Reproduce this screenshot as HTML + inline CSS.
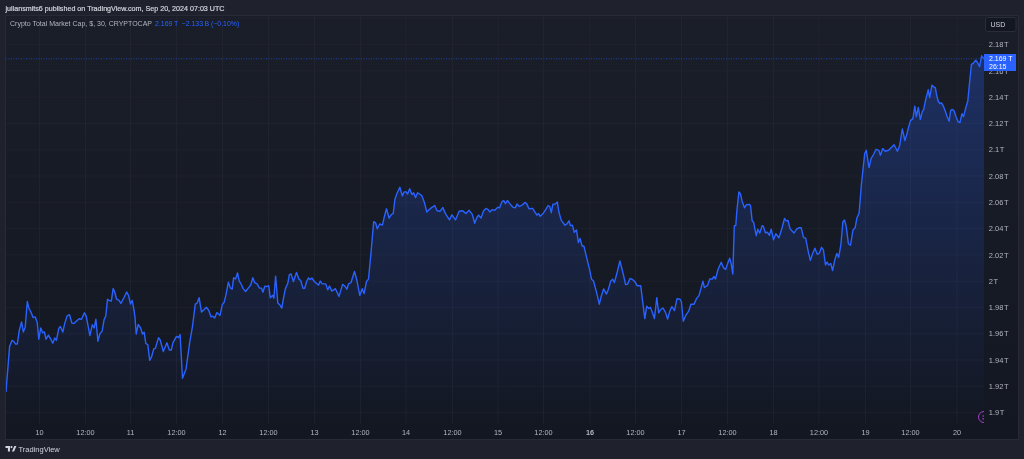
<!DOCTYPE html>
<html><head><meta charset="utf-8"><style>
html,body{margin:0;padding:0;}
body{width:1024px;height:459px;overflow:hidden;background:#1f222d;position:relative;font-family:"Liberation Sans",Arial,sans-serif;}
.hdr{position:absolute;left:5.5px;top:5.2px;font-size:7.15px;line-height:9px;color:#d1d4dc;-webkit-text-stroke:0.2px #d1d4dc;white-space:nowrap;}
svg{position:absolute;left:0;top:0;}
.foot{position:absolute;left:18.5px;top:444.5px;font-size:7.5px;line-height:10px;color:#d1d4dc;white-space:nowrap;}
</style></head><body>
<div class="hdr">juliansmits6 published on TradingView.com, Sep 20, 2024 07:03 UTC</div>
<svg width="1024" height="459" viewBox="0 0 1024 459">
<defs>
<linearGradient id="bg" x1="0" y1="15.5" x2="0" y2="439" gradientUnits="userSpaceOnUse">
<stop offset="0" stop-color="#1a1e29"/><stop offset="1" stop-color="#131722"/>
</linearGradient>
<linearGradient id="af" x1="0" y1="55" x2="0" y2="423" gradientUnits="userSpaceOnUse">
<stop offset="0" stop-color="#2962ff" stop-opacity="0.28"/><stop offset="1" stop-color="#2962ff" stop-opacity="0.0"/>
</linearGradient>
<clipPath id="pc"><rect x="6" y="16" width="978" height="407"/></clipPath>
</defs>
<rect x="5.5" y="15.5" width="1013" height="424" fill="url(#bg)" stroke="#272b36" stroke-width="1"/>
<g stroke="#2a2e39" stroke-width="1"><line x1="39.5" y1="16" x2="39.5" y2="424" stroke-opacity="0.42"/><line x1="85.5" y1="16" x2="85.5" y2="424" stroke-opacity="0.42"/><line x1="130.5" y1="16" x2="130.5" y2="424" stroke-opacity="0.42"/><line x1="176.5" y1="16" x2="176.5" y2="424" stroke-opacity="0.42"/><line x1="222.5" y1="16" x2="222.5" y2="424" stroke-opacity="0.42"/><line x1="268.5" y1="16" x2="268.5" y2="424" stroke-opacity="0.42"/><line x1="314.5" y1="16" x2="314.5" y2="424" stroke-opacity="0.42"/><line x1="360.5" y1="16" x2="360.5" y2="424" stroke-opacity="0.42"/><line x1="406.0" y1="16" x2="406.0" y2="424" stroke-opacity="0.42"/><line x1="452.5" y1="16" x2="452.5" y2="424" stroke-opacity="0.42"/><line x1="498.0" y1="16" x2="498.0" y2="424" stroke-opacity="0.42"/><line x1="543.5" y1="16" x2="543.5" y2="424" stroke-opacity="0.42"/><line x1="590.0" y1="16" x2="590.0" y2="424" stroke-opacity="0.42"/><line x1="635.5" y1="16" x2="635.5" y2="424" stroke-opacity="0.42"/><line x1="681.5" y1="16" x2="681.5" y2="424" stroke-opacity="0.42"/><line x1="727.5" y1="16" x2="727.5" y2="424" stroke-opacity="0.42"/><line x1="773.5" y1="16" x2="773.5" y2="424" stroke-opacity="0.42"/><line x1="819.0" y1="16" x2="819.0" y2="424" stroke-opacity="0.42"/><line x1="865.5" y1="16" x2="865.5" y2="424" stroke-opacity="0.42"/><line x1="910.5" y1="16" x2="910.5" y2="424" stroke-opacity="0.42"/><line x1="957.0" y1="16" x2="957.0" y2="424" stroke-opacity="0.42"/><line x1="6" y1="18.3" x2="984" y2="18.3" stroke-opacity="0.38"/><line x1="6" y1="44.6" x2="984" y2="44.6" stroke-opacity="0.38"/><line x1="6" y1="70.9" x2="984" y2="70.9" stroke-opacity="0.38"/><line x1="6" y1="97.2" x2="984" y2="97.2" stroke-opacity="0.38"/><line x1="6" y1="123.5" x2="984" y2="123.5" stroke-opacity="0.38"/><line x1="6" y1="149.7" x2="984" y2="149.7" stroke-opacity="0.38"/><line x1="6" y1="176.0" x2="984" y2="176.0" stroke-opacity="0.38"/><line x1="6" y1="202.3" x2="984" y2="202.3" stroke-opacity="0.38"/><line x1="6" y1="228.6" x2="984" y2="228.6" stroke-opacity="0.38"/><line x1="6" y1="254.9" x2="984" y2="254.9" stroke-opacity="0.38"/><line x1="6" y1="281.2" x2="984" y2="281.2" stroke-opacity="0.38"/><line x1="6" y1="307.5" x2="984" y2="307.5" stroke-opacity="0.38"/><line x1="6" y1="333.7" x2="984" y2="333.7" stroke-opacity="0.38"/><line x1="6" y1="360.0" x2="984" y2="360.0" stroke-opacity="0.38"/><line x1="6" y1="386.3" x2="984" y2="386.3" stroke-opacity="0.38"/><line x1="6" y1="412.6" x2="984" y2="412.6" stroke-opacity="0.38"/></g>
<g clip-path="url(#pc)">
<path d="M6.0 391.9 L9.6 346.4 L12.0 340.4 L13.9 341.6 L15.6 344.0 L17.3 344.0 L19.2 330.8 L21.6 321.9 L23.3 332.0 L25.2 327.2 L27.3 301.5 L28.8 308.0 L30.7 311.6 L33.1 317.6 L35.3 316.9 L37.2 322.4 L38.8 339.2 L40.8 327.9 L42.7 332.7 L44.4 332.0 L46.0 339.2 L48.4 335.1 L50.8 339.2 L52.8 343.2 L54.7 338.0 L56.4 340.4 L58.8 328.4 L60.4 326.5 L62.8 332.0 L64.7 323.6 L67.1 315.9 L69.5 314.7 L71.9 323.1 L73.8 323.6 L79.1 318.8 L81.5 319.3 L84.4 312.8 L86.3 316.4 L89.9 335.6 L92.3 324.8 L94.2 327.9 L95.9 319.3 L97.9 341.2 L99.8 334.0 L102.2 330.8 L104.1 319.6 L105.8 316.0 L107.5 299.2 L108.9 300.4 L111.3 301.1 L113.2 288.4 L114.7 292.0 L116.6 299.2 L119.0 300.4 L120.9 303.3 L123.8 298.0 L126.7 292.0 L128.6 295.6 L130.5 304.0 L132.2 300.4 L133.8 308.8 L135.0 317.2 L136.2 334.0 L138.2 324.4 L140.6 328.0 L142.5 334.0 L144.2 332.3 L145.8 343.5 L147.8 344.7 L149.7 360.3 L151.6 356.7 L153.8 348.8 L155.4 348.3 L158.5 337.6 L160.2 340.0 L163.3 351.5 L166.9 342.8 L169.3 350.0 L171.3 350.0 L172.9 342.8 L176.5 336.4 L178.5 337.6 L180.1 334.7 L182.5 378.3 L186.1 368.7 L189.7 342.4 L192.4 327.0 L195.3 304.2 L197.2 303.0 L199.1 297.7 L201.5 312.1 L203.9 309.7 L206.3 307.3 L208.7 310.2 L211.1 316.9 L212.8 316.2 L214.7 318.1 L216.9 312.6 L220.0 315.4 L222.4 304.2 L224.1 302.5 L226.0 294.6 L228.4 282.1 L230.3 287.9 L232.2 289.1 L233.6 277.8 L235.6 279.0 L237.5 273.0 L239.2 280.9 L241.6 285.0 L243.2 288.6 L245.6 291.5 L248.8 287.4 L250.7 285.0 L252.8 277.8 L254.7 282.6 L257.1 283.8 L259.5 288.1 L261.5 288.1 L262.9 292.2 L264.8 286.2 L266.3 286.7 L268.7 285.7 L270.3 297.7 L272.7 295.3 L273.9 298.2 L275.6 276.1 L277.8 303.0 L279.9 304.9 L281.8 308.2 L283.5 298.2 L285.4 288.6 L287.8 283.3 L289.3 274.8 L291.0 273.9 L293.4 281.5 L296.5 272.4 L298.9 279.1 L300.6 280.3 L303.0 288.2 L304.7 288.2 L306.6 281.5 L308.5 277.9 L310.2 279.6 L311.9 277.9 L314.3 281.5 L316.7 283.5 L318.6 285.1 L320.3 281.1 L322.2 283.9 L325.8 283.9 L327.7 289.9 L329.4 285.9 L331.8 291.1 L335.4 288.7 L339.0 296.4 L342.6 284.4 L345.0 286.3 L346.9 289.2 L348.5 283.9 L350.9 282.7 L354.5 271.5 L356.9 280.3 L359.8 295.4 L362.2 288.7 L364.1 293.5 L366.5 281.5 L368.5 279.1 L370.9 254.0 L373.7 221.6 L375.6 222.8 L377.3 228.8 L379.7 224.0 L382.4 225.2 L384.3 216.8 L386.5 208.8 L389.1 218.0 L391.5 214.4 L393.2 213.6 L394.9 199.3 L397.3 192.8 L399.9 187.3 L402.3 195.9 L404.0 192.1 L405.9 191.6 L407.6 194.0 L409.7 188.7 L411.9 194.5 L413.6 192.8 L415.5 197.6 L417.6 192.8 L419.6 194.0 L422.0 195.9 L424.4 202.4 L426.8 212.0 L429.2 209.6 L431.6 207.6 L434.7 205.5 L437.1 210.8 L440.0 211.2 L442.8 207.6 L445.9 214.4 L449.5 219.9 L451.9 214.8 L455.5 219.9 L459.1 211.2 L462.7 210.8 L465.9 213.6 L469.2 210.3 L472.3 214.4 L474.7 223.2 L476.9 217.5 L478.6 215.1 L481.0 218.0 L483.4 211.2 L485.8 208.4 L488.2 209.6 L489.9 212.0 L492.3 209.6 L494.7 210.3 L497.8 207.2 L499.5 207.9 L501.9 201.7 L503.8 200.7 L505.5 203.6 L507.4 200.5 L509.8 203.6 L512.9 207.2 L515.3 207.9 L517.0 204.1 L519.4 206.5 L522.5 204.8 L524.9 202.4 L526.6 203.6 L529.0 208.8 L532.6 208.4 L536.9 215.1 L538.5 213.6 L540.2 216.3 L543.3 213.2 L545.7 209.6 L548.1 205.5 L549.8 206.5 L551.3 212.7 L552.9 204.1 L555.3 204.1 L557.3 201.9 L558.9 212.0 L561.3 220.4 L565.0 225.2 L566.8 224.0 L569.0 220.8 L570.4 225.6 L572.4 225.1 L574.3 232.3 L576.5 229.9 L578.4 242.6 L580.1 238.5 L582.0 245.7 L583.9 246.2 L586.8 258.2 L589.7 270.2 L591.6 279.3 L593.5 281.0 L596.4 291.7 L599.3 304.2 L601.2 296.5 L603.6 288.9 L606.5 294.1 L608.4 289.3 L610.8 281.0 L612.7 279.3 L614.4 282.6 L616.8 273.8 L619.9 261.0 L622.3 270.2 L624.0 277.4 L625.6 284.5 L627.6 284.1 L630.0 278.5 L632.8 279.7 L635.2 282.1 L637.1 285.7 L640.7 285.7 L643.1 304.9 L644.8 318.6 L646.7 306.1 L648.7 308.5 L650.3 307.3 L652.7 313.3 L654.4 318.6 L656.8 297.7 L658.7 312.8 L660.6 309.7 L663.0 308.0 L665.4 312.1 L667.6 319.1 L669.7 311.2 L671.9 306.5 L674.5 310.6 L677.0 298.6 L680.1 299.2 L681.4 301.7 L683.3 321.3 L685.5 315.9 L688.7 311.2 L690.9 304.2 L694.0 304.2 L696.5 298.6 L699.1 295.4 L702.9 281.2 L704.4 287.5 L707.6 285.3 L709.8 279.0 L712.3 279.0 L713.9 276.5 L715.5 279.0 L718.0 269.5 L721.2 262.3 L723.4 267.6 L725.6 269.5 L728.1 262.3 L729.7 258.2 L731.2 263.9 L732.8 274.0 L734.3 225.8 L735.8 225.5 L736.9 210.5 L738.9 191.9 L740.4 193.7 L742.2 201.4 L744.5 207.8 L746.5 204.7 L749.5 204.4 L750.6 206.0 L752.1 220.5 L753.7 222.7 L755.2 230.4 L756.3 235.7 L757.8 229.2 L759.8 233.1 L762.1 225.8 L763.3 226.1 L765.4 232.7 L767.4 232.2 L769.4 235.3 L771.2 229.2 L773.5 239.8 L775.8 233.7 L778.9 237.7 L781.9 228.5 L784.5 218.5 L786.2 220.9 L788.0 220.5 L790.0 228.5 L791.1 229.9 L794.1 233.0 L796.6 229.0 L799.0 227.8 L801.2 227.8 L803.6 237.6 L805.7 238.2 L808.2 251.3 L810.3 260.4 L812.4 254.3 L814.9 248.2 L817.3 254.3 L819.5 252.8 L821.6 247.3 L823.4 249.8 L825.5 265.0 L827.1 262.0 L828.6 265.0 L830.7 263.5 L832.6 270.5 L834.7 260.4 L836.8 253.4 L838.7 257.4 L840.8 245.2 L842.9 221.7 L844.5 219.9 L846.3 226.9 L848.4 243.7 L850.5 245.2 L853.0 229.9 L855.1 227.8 L857.0 217.7 L859.1 213.2 L861.4 184.6 L864.7 153.5 L866.3 150.3 L869.0 167.6 L871.2 158.4 L873.5 154.5 L876.1 149.3 L878.8 150.3 L880.4 155.2 L882.7 148.6 L885.3 151.2 L888.6 150.3 L891.8 147.0 L894.1 144.7 L897.4 151.2 L899.7 145.4 L902.3 129.0 L904.9 140.5 L906.6 135.1 L908.5 127.4 L910.5 120.6 L912.9 118.6 L914.8 106.2 L916.4 116.7 L918.3 107.4 L920.3 119.6 L922.3 111.4 L923.6 109.8 L925.6 100.0 L928.2 89.8 L929.7 97.6 L931.9 85.2 L933.5 86.6 L935.4 87.8 L936.8 96.0 L938.4 101.5 L939.9 103.5 L941.5 102.9 L943.3 105.9 L945.2 110.8 L947.2 116.7 L949.2 121.2 L950.5 110.8 L952.1 109.4 L954.1 110.8 L956.0 116.7 L958.0 121.6 L960.0 122.5 L961.9 113.7 L963.5 116.7 L965.5 108.8 L967.8 101.0 L969.4 84.3 L971.4 64.6 L973.3 63.1 L975.7 60.3 L977.6 62.7 L979.6 66.6 L981.6 55.8 L983.1 57.8 L984.1 58.8 L984.1 423 L6.0 423 Z" fill="url(#af)"/>
<path d="M6.0 391.9 L9.6 346.4 L12.0 340.4 L13.9 341.6 L15.6 344.0 L17.3 344.0 L19.2 330.8 L21.6 321.9 L23.3 332.0 L25.2 327.2 L27.3 301.5 L28.8 308.0 L30.7 311.6 L33.1 317.6 L35.3 316.9 L37.2 322.4 L38.8 339.2 L40.8 327.9 L42.7 332.7 L44.4 332.0 L46.0 339.2 L48.4 335.1 L50.8 339.2 L52.8 343.2 L54.7 338.0 L56.4 340.4 L58.8 328.4 L60.4 326.5 L62.8 332.0 L64.7 323.6 L67.1 315.9 L69.5 314.7 L71.9 323.1 L73.8 323.6 L79.1 318.8 L81.5 319.3 L84.4 312.8 L86.3 316.4 L89.9 335.6 L92.3 324.8 L94.2 327.9 L95.9 319.3 L97.9 341.2 L99.8 334.0 L102.2 330.8 L104.1 319.6 L105.8 316.0 L107.5 299.2 L108.9 300.4 L111.3 301.1 L113.2 288.4 L114.7 292.0 L116.6 299.2 L119.0 300.4 L120.9 303.3 L123.8 298.0 L126.7 292.0 L128.6 295.6 L130.5 304.0 L132.2 300.4 L133.8 308.8 L135.0 317.2 L136.2 334.0 L138.2 324.4 L140.6 328.0 L142.5 334.0 L144.2 332.3 L145.8 343.5 L147.8 344.7 L149.7 360.3 L151.6 356.7 L153.8 348.8 L155.4 348.3 L158.5 337.6 L160.2 340.0 L163.3 351.5 L166.9 342.8 L169.3 350.0 L171.3 350.0 L172.9 342.8 L176.5 336.4 L178.5 337.6 L180.1 334.7 L182.5 378.3 L186.1 368.7 L189.7 342.4 L192.4 327.0 L195.3 304.2 L197.2 303.0 L199.1 297.7 L201.5 312.1 L203.9 309.7 L206.3 307.3 L208.7 310.2 L211.1 316.9 L212.8 316.2 L214.7 318.1 L216.9 312.6 L220.0 315.4 L222.4 304.2 L224.1 302.5 L226.0 294.6 L228.4 282.1 L230.3 287.9 L232.2 289.1 L233.6 277.8 L235.6 279.0 L237.5 273.0 L239.2 280.9 L241.6 285.0 L243.2 288.6 L245.6 291.5 L248.8 287.4 L250.7 285.0 L252.8 277.8 L254.7 282.6 L257.1 283.8 L259.5 288.1 L261.5 288.1 L262.9 292.2 L264.8 286.2 L266.3 286.7 L268.7 285.7 L270.3 297.7 L272.7 295.3 L273.9 298.2 L275.6 276.1 L277.8 303.0 L279.9 304.9 L281.8 308.2 L283.5 298.2 L285.4 288.6 L287.8 283.3 L289.3 274.8 L291.0 273.9 L293.4 281.5 L296.5 272.4 L298.9 279.1 L300.6 280.3 L303.0 288.2 L304.7 288.2 L306.6 281.5 L308.5 277.9 L310.2 279.6 L311.9 277.9 L314.3 281.5 L316.7 283.5 L318.6 285.1 L320.3 281.1 L322.2 283.9 L325.8 283.9 L327.7 289.9 L329.4 285.9 L331.8 291.1 L335.4 288.7 L339.0 296.4 L342.6 284.4 L345.0 286.3 L346.9 289.2 L348.5 283.9 L350.9 282.7 L354.5 271.5 L356.9 280.3 L359.8 295.4 L362.2 288.7 L364.1 293.5 L366.5 281.5 L368.5 279.1 L370.9 254.0 L373.7 221.6 L375.6 222.8 L377.3 228.8 L379.7 224.0 L382.4 225.2 L384.3 216.8 L386.5 208.8 L389.1 218.0 L391.5 214.4 L393.2 213.6 L394.9 199.3 L397.3 192.8 L399.9 187.3 L402.3 195.9 L404.0 192.1 L405.9 191.6 L407.6 194.0 L409.7 188.7 L411.9 194.5 L413.6 192.8 L415.5 197.6 L417.6 192.8 L419.6 194.0 L422.0 195.9 L424.4 202.4 L426.8 212.0 L429.2 209.6 L431.6 207.6 L434.7 205.5 L437.1 210.8 L440.0 211.2 L442.8 207.6 L445.9 214.4 L449.5 219.9 L451.9 214.8 L455.5 219.9 L459.1 211.2 L462.7 210.8 L465.9 213.6 L469.2 210.3 L472.3 214.4 L474.7 223.2 L476.9 217.5 L478.6 215.1 L481.0 218.0 L483.4 211.2 L485.8 208.4 L488.2 209.6 L489.9 212.0 L492.3 209.6 L494.7 210.3 L497.8 207.2 L499.5 207.9 L501.9 201.7 L503.8 200.7 L505.5 203.6 L507.4 200.5 L509.8 203.6 L512.9 207.2 L515.3 207.9 L517.0 204.1 L519.4 206.5 L522.5 204.8 L524.9 202.4 L526.6 203.6 L529.0 208.8 L532.6 208.4 L536.9 215.1 L538.5 213.6 L540.2 216.3 L543.3 213.2 L545.7 209.6 L548.1 205.5 L549.8 206.5 L551.3 212.7 L552.9 204.1 L555.3 204.1 L557.3 201.9 L558.9 212.0 L561.3 220.4 L565.0 225.2 L566.8 224.0 L569.0 220.8 L570.4 225.6 L572.4 225.1 L574.3 232.3 L576.5 229.9 L578.4 242.6 L580.1 238.5 L582.0 245.7 L583.9 246.2 L586.8 258.2 L589.7 270.2 L591.6 279.3 L593.5 281.0 L596.4 291.7 L599.3 304.2 L601.2 296.5 L603.6 288.9 L606.5 294.1 L608.4 289.3 L610.8 281.0 L612.7 279.3 L614.4 282.6 L616.8 273.8 L619.9 261.0 L622.3 270.2 L624.0 277.4 L625.6 284.5 L627.6 284.1 L630.0 278.5 L632.8 279.7 L635.2 282.1 L637.1 285.7 L640.7 285.7 L643.1 304.9 L644.8 318.6 L646.7 306.1 L648.7 308.5 L650.3 307.3 L652.7 313.3 L654.4 318.6 L656.8 297.7 L658.7 312.8 L660.6 309.7 L663.0 308.0 L665.4 312.1 L667.6 319.1 L669.7 311.2 L671.9 306.5 L674.5 310.6 L677.0 298.6 L680.1 299.2 L681.4 301.7 L683.3 321.3 L685.5 315.9 L688.7 311.2 L690.9 304.2 L694.0 304.2 L696.5 298.6 L699.1 295.4 L702.9 281.2 L704.4 287.5 L707.6 285.3 L709.8 279.0 L712.3 279.0 L713.9 276.5 L715.5 279.0 L718.0 269.5 L721.2 262.3 L723.4 267.6 L725.6 269.5 L728.1 262.3 L729.7 258.2 L731.2 263.9 L732.8 274.0 L734.3 225.8 L735.8 225.5 L736.9 210.5 L738.9 191.9 L740.4 193.7 L742.2 201.4 L744.5 207.8 L746.5 204.7 L749.5 204.4 L750.6 206.0 L752.1 220.5 L753.7 222.7 L755.2 230.4 L756.3 235.7 L757.8 229.2 L759.8 233.1 L762.1 225.8 L763.3 226.1 L765.4 232.7 L767.4 232.2 L769.4 235.3 L771.2 229.2 L773.5 239.8 L775.8 233.7 L778.9 237.7 L781.9 228.5 L784.5 218.5 L786.2 220.9 L788.0 220.5 L790.0 228.5 L791.1 229.9 L794.1 233.0 L796.6 229.0 L799.0 227.8 L801.2 227.8 L803.6 237.6 L805.7 238.2 L808.2 251.3 L810.3 260.4 L812.4 254.3 L814.9 248.2 L817.3 254.3 L819.5 252.8 L821.6 247.3 L823.4 249.8 L825.5 265.0 L827.1 262.0 L828.6 265.0 L830.7 263.5 L832.6 270.5 L834.7 260.4 L836.8 253.4 L838.7 257.4 L840.8 245.2 L842.9 221.7 L844.5 219.9 L846.3 226.9 L848.4 243.7 L850.5 245.2 L853.0 229.9 L855.1 227.8 L857.0 217.7 L859.1 213.2 L861.4 184.6 L864.7 153.5 L866.3 150.3 L869.0 167.6 L871.2 158.4 L873.5 154.5 L876.1 149.3 L878.8 150.3 L880.4 155.2 L882.7 148.6 L885.3 151.2 L888.6 150.3 L891.8 147.0 L894.1 144.7 L897.4 151.2 L899.7 145.4 L902.3 129.0 L904.9 140.5 L906.6 135.1 L908.5 127.4 L910.5 120.6 L912.9 118.6 L914.8 106.2 L916.4 116.7 L918.3 107.4 L920.3 119.6 L922.3 111.4 L923.6 109.8 L925.6 100.0 L928.2 89.8 L929.7 97.6 L931.9 85.2 L933.5 86.6 L935.4 87.8 L936.8 96.0 L938.4 101.5 L939.9 103.5 L941.5 102.9 L943.3 105.9 L945.2 110.8 L947.2 116.7 L949.2 121.2 L950.5 110.8 L952.1 109.4 L954.1 110.8 L956.0 116.7 L958.0 121.6 L960.0 122.5 L961.9 113.7 L963.5 116.7 L965.5 108.8 L967.8 101.0 L969.4 84.3 L971.4 64.6 L973.3 63.1 L975.7 60.3 L977.6 62.7 L979.6 66.6 L981.6 55.8 L983.1 57.8 L984.1 58.8" fill="none" stroke="#2962ff" stroke-width="1.4" stroke-linejoin="round"/>
<line x1="6" y1="58.8" x2="984" y2="58.8" stroke="#2962ff" stroke-width="0.8" stroke-dasharray="1 1.5" opacity="0.7"/>
<g fill="none" stroke="#a13fc4" stroke-width="1"><circle cx="984" cy="417" r="5.5"/></g>
<g fill="#a13fc4" opacity="0.85"><rect x="982.4" y="415.3" width="1.6" height="1.4"/><rect x="982.4" y="418.1" width="1.6" height="1.5"/></g>
</g>
<g font-family="Liberation Sans, Arial, sans-serif" font-size="7" fill="#b2b5be">
<text x="10" y="26.2">Crypto Total Market Cap, $, 30, CRYPTOCAP</text>
<text x="155" y="26.2" fill="#2962ff">2.169&#8201;T</text>
<text x="181.6" y="26.2" fill="#2962ff" font-size="6.95">&#8722;2.133&#8201;B (&#8722;0.10%)</text>
<text x="988.8" y="47.3" font-size="7.5">2.18&#8202;T</text>
<text x="988.8" y="73.6" font-size="7.5">2.16&#8202;T</text>
<text x="988.8" y="99.9" font-size="7.5">2.14&#8202;T</text>
<text x="988.8" y="126.2" font-size="7.5">2.12&#8202;T</text>
<text x="988.8" y="152.4" font-size="7.5">2.1&#8202;T</text>
<text x="988.8" y="178.7" font-size="7.5">2.08&#8202;T</text>
<text x="988.8" y="205.0" font-size="7.5">2.06&#8202;T</text>
<text x="988.8" y="231.3" font-size="7.5">2.04&#8202;T</text>
<text x="988.8" y="257.6" font-size="7.5">2.02&#8202;T</text>
<text x="988.8" y="283.9" font-size="7.5">2&#8202;T</text>
<text x="988.8" y="310.2" font-size="7.5">1.98&#8202;T</text>
<text x="988.8" y="336.4" font-size="7.5">1.96&#8202;T</text>
<text x="988.8" y="362.7" font-size="7.5">1.94&#8202;T</text>
<text x="988.8" y="389.0" font-size="7.5">1.92&#8202;T</text>
<text x="988.8" y="415.3" font-size="7.5">1.9&#8202;T</text>
<text x="39.5" y="434.6" text-anchor="middle" font-size="7.3" style="">10</text>
<text x="85.5" y="434.6" text-anchor="middle" font-size="7.3" style="">12:00</text>
<text x="130.5" y="434.6" text-anchor="middle" font-size="7.3" style="">11</text>
<text x="176.5" y="434.6" text-anchor="middle" font-size="7.3" style="">12:00</text>
<text x="222.5" y="434.6" text-anchor="middle" font-size="7.3" style="">12</text>
<text x="268.5" y="434.6" text-anchor="middle" font-size="7.3" style="">12:00</text>
<text x="314.5" y="434.6" text-anchor="middle" font-size="7.3" style="">13</text>
<text x="360.5" y="434.6" text-anchor="middle" font-size="7.3" style="">12:00</text>
<text x="406.0" y="434.6" text-anchor="middle" font-size="7.3" style="">14</text>
<text x="452.5" y="434.6" text-anchor="middle" font-size="7.3" style="">12:00</text>
<text x="498.0" y="434.6" text-anchor="middle" font-size="7.3" style="">15</text>
<text x="543.5" y="434.6" text-anchor="middle" font-size="7.3" style="">12:00</text>
<text x="590.0" y="434.6" text-anchor="middle" font-size="7.3" style="font-weight:bold;">16</text>
<text x="635.5" y="434.6" text-anchor="middle" font-size="7.3" style="">12:00</text>
<text x="681.5" y="434.6" text-anchor="middle" font-size="7.3" style="">17</text>
<text x="727.5" y="434.6" text-anchor="middle" font-size="7.3" style="">12:00</text>
<text x="773.5" y="434.6" text-anchor="middle" font-size="7.3" style="">18</text>
<text x="819.0" y="434.6" text-anchor="middle" font-size="7.3" style="">12:00</text>
<text x="865.5" y="434.6" text-anchor="middle" font-size="7.3" style="">19</text>
<text x="910.5" y="434.6" text-anchor="middle" font-size="7.3" style="">12:00</text>
<text x="957.0" y="434.6" text-anchor="middle" font-size="7.3" style="">20</text>
</g>
<rect x="985.5" y="17.5" width="30.5" height="14" rx="2" fill="#131722" stroke="#2a2e39" stroke-width="1"/>
<text x="990.5" y="27" font-family="Liberation Sans, Arial, sans-serif" font-size="7" fill="#d1d4dc">USD</text>
<rect x="984" y="54" width="32" height="17" fill="#2962ff"/>
<g font-family="Liberation Sans, Arial, sans-serif" font-size="7" fill="#ffffff">
<text x="989" y="61.3">2.169 T</text>
<text x="989" y="69.3">26:15</text>
</g>
<g fill="#d1d4dc" transform="translate(5.5,446)">
<path d="M0 0H4.5V5.6H2.4V2.1H0Z"/>
<circle cx="6" cy="1.1" r="1.1"/>
<path d="M8.8 0H10.9L8.6 5.6H6.4Z"/>
</g>
</svg>
<div class="foot">TradingView</div>
</body></html>
